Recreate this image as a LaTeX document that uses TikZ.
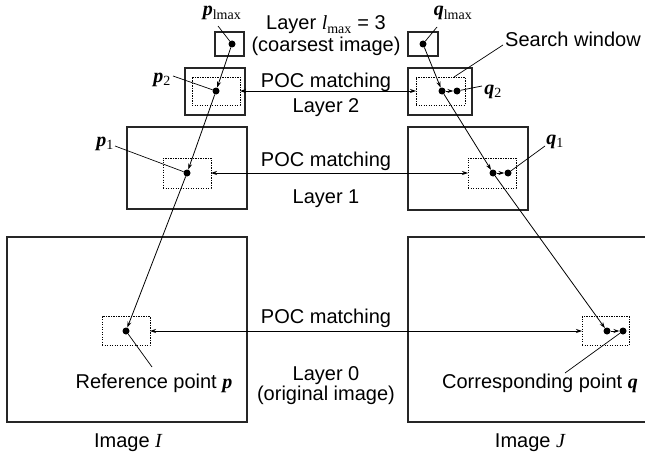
\documentclass[tikz,border=0pt]{standalone}
\usepackage{fontspec}
\setmainfont{Liberation Sans}
\newfontfamily\tms{Liberation Serif}
\usetikzlibrary{arrows.meta}
\newcommand\bpi[1]{{\tms\bfseries\itshape #1}}
\newcommand\sbs[1]{\textsubscript{\tms #1}}
\begin{document}
\begin{tikzpicture}[x=1pt,y=-1pt,
  every node/.style={font=\fontsize{20}{20}\selectfont},
  frame/.style={draw=black!85, line width=1.1pt, inner sep=0pt, outer sep=0pt},
  win/.style={draw, line width=0.9pt, dash pattern=on 1.2pt off 1.3pt, inner sep=0pt, outer sep=0pt},
  dot/.style={circle, fill, inner sep=0pt, minimum size=7pt},
  conn/.style={line width=0.8pt, -{Stealth[length=6pt,width=4pt]}},
  poc/.style={line width=0.8pt, {Stealth[length=6pt,width=4pt]}-{Stealth[length=6pt,width=4pt]}},
  lead/.style={line width=0.7pt},
  lbl/.style={inner sep=0pt, anchor=base}]
\useasboundingbox (0,0) rectangle (645,452);
% frames
\node[frame, minimum width=29pt, minimum height=24pt] (F3a) at (229.5,44) {};
\node[frame, minimum width=30pt, minimum height=24pt] (F3b) at (423,44) {};
\node[frame, minimum width=60pt, minimum height=47pt] (F2a) at (215,91.5) {};
\node[frame, minimum width=64pt, minimum height=47pt] (F2b) at (440,91.5) {};
\node[frame, minimum width=120pt, minimum height=82pt] (F1a) at (187,168) {};
\node[frame, minimum width=120pt, minimum height=83pt] (F1b) at (468,168.5) {};
\node[frame, minimum width=240pt, minimum height=185pt] (F0a) at (127,329.5) {};
\node[frame, minimum width=240pt, minimum height=185pt] (F0b) at (528,329.5) {};
% search windows
\node[win, minimum width=48pt, minimum height=28pt] (W2a) at (216,91) {};
\node[win, minimum width=49pt, minimum height=28pt] (W2b) at (440.5,91) {};
\node[win, minimum width=48pt, minimum height=30pt] (W1a) at (187,173) {};
\node[win, minimum width=48pt, minimum height=30pt] (W1b) at (492,173) {};
\node[win, minimum width=48pt, minimum height=29pt] (W0a) at (126,331) {};
\node[win, minimum width=47pt, minimum height=29pt] (W0b) at (605.5,331) {};
% dots
\node[dot] (d3a) at (232,44) {};
\node[dot] (d3b) at (423,44) {};
\node[dot] (d2a) at (216,91) {};
\node[dot] (d2b) at (442,91) {};
\node[dot] (d2c) at (457,91) {};
\node[dot] (d1a) at (187,173) {};
\node[dot] (d1b) at (493,173) {};
\node[dot] (d1c) at (508,173) {};
\node[dot] (d0a) at (126,331) {};
\node[dot] (d0b) at (607,331) {};
\node[dot] (d0c) at (623,331) {};
% connectors between layers
\draw[conn] (d3a) -- (d2a);
\draw[conn] (d2a) -- (d1a);
\draw[conn] (d1a) -- (d0a);
\draw[conn] (d3b) -- (d2b);
\draw[conn] (d2b) -- (d2c);
\draw[conn] (d2b) -- (d1b);
\draw[conn] (d1b) -- (d1c);
\draw[conn] (d1b) -- (d0b);
\draw[conn] (d0b) -- (d0c);
% POC matching arrows
\draw[poc] (W2a.east) -- (W2b.west);
\draw[poc] (W1a.east) -- (W1b.west);
\draw[poc] (W0a.east) -- (W0b.west);
% centre texts
\node[lbl] (t3) at (326,30) {Layer {\tms\itshape l}\sbs{max} = 3};
\node[lbl] (t3b) at (326,52) {(coarsest image)};
\node[lbl] (poc2) at (326,87) {POC matching};
\node[lbl] (lay2) at (326,112) {Layer 2};
\node[lbl] (poc1) at (326,166) {POC matching};
\node[lbl] (lay1) at (326,203) {Layer 1};
\node[lbl] (poc0) at (326,323) {POC matching};
\node[lbl] (lay0) at (326,380) {Layer 0};
\node[lbl] (lay0b) at (326,400) {(original image)};
\node[lbl] (imI) at (128,447) {Image {\tms\itshape I}};
\node[lbl] (imJ) at (530,447) {Image {\tms\itshape J}};
\node[lbl] (refp) at (154,388) {Reference point \bpi{p}};
\node[lbl] (corq) at (540,388) {Corresponding point \bpi{q}};
\node[lbl, anchor=base west] (sw) at (505,47) {Search window};
% point labels
\node[lbl] (pmax) at (222,16) {\bpi{p}\sbs{lmax}};
\node[lbl] (qmax) at (453,16) {\bpi{q}\sbs{lmax}};
\node[lbl] (p2) at (162,82) {\bpi{p}\sbs{2}};
\node[lbl] (q2) at (493,94) {\bpi{q}\sbs{2}};
\node[lbl] (p1) at (105,146) {\bpi{p}\sbs{1}};
\node[lbl] (q1) at (555,144) {\bpi{q}\sbs{1}};
% leader lines
\coordinate (lpmax) at (218,26);
\coordinate (lqmax) at (437,27);
\coordinate (lp2) at (173,76);
\coordinate (lq2) at (482,86);
\coordinate (lp1) at (115,146);
\coordinate (lq1) at (545,146);
\coordinate (lsw1) at (503,45);
\coordinate (lsw2) at (454,77);
\coordinate (lref) at (152,367);
\coordinate (lcor) at (565,373);
\draw[lead] (lpmax) -- (d3a);
\draw[lead] (lqmax) -- (d3b);
\draw[lead] (lp2) -- (d2a);
\draw[lead] (lq2) -- (d2c);
\draw[lead] (lp1) -- (d1a);
\draw[lead] (lq1) -- (d1c);
\draw[lead] (lsw1) -- (lsw2);
\draw[lead] (d0a) -- (lref);
\draw[lead] (d0c) -- (lcor);
\end{tikzpicture}
\end{document}
